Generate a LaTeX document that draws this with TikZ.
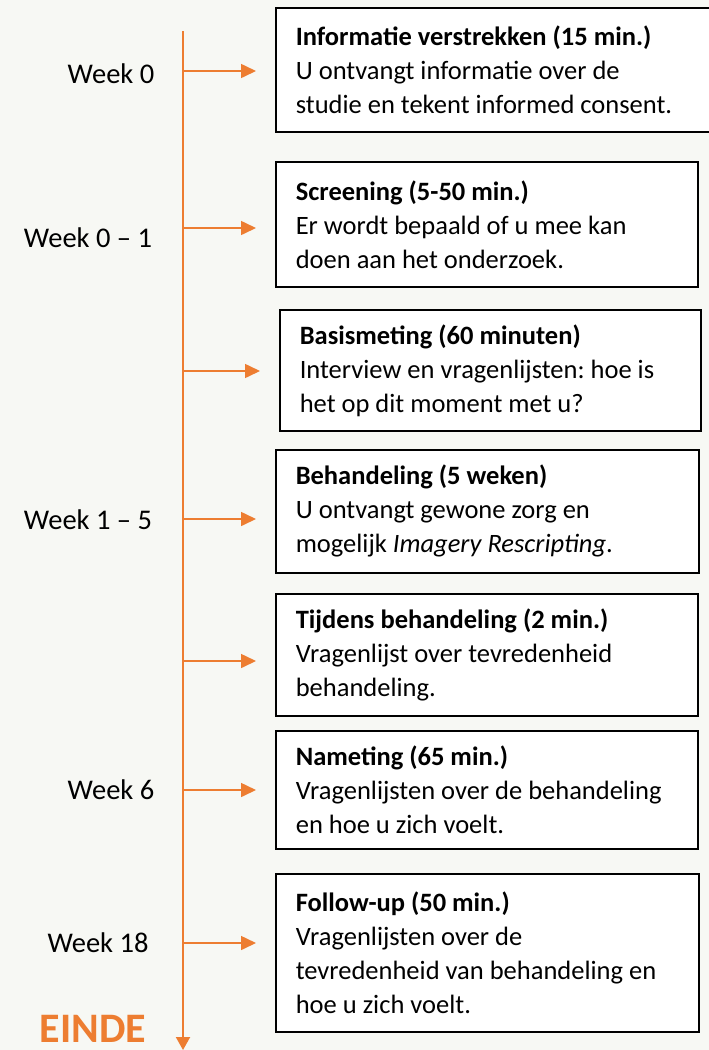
\documentclass[tikz,border=0pt]{standalone}
\usepackage{fontspec}
\setmainfont{Carlito}
\usetikzlibrary{arrows.meta}
\definecolor{bgc}{HTML}{F7F8F4}
\definecolor{orng}{HTML}{ED7D31}
\hyphenpenalty=10000\relax
\exhyphenpenalty=10000\relax
\frenchspacing
\tikzset{
  x=1pt,y=-1pt,
  arr/.style={draw=orng,line width=1.6pt,-{Triangle[length=15pt,width=14pt]},shorten >=19pt},
  infobox/.style={draw=black,line width=1.6pt,fill=white,anchor=north west,align=flush left,
    inner xsep=20pt,inner ysep=0pt,font=\fontsize{26.5}{34}\selectfont},
  weeklabel/.style={font=\fontsize{28.5}{34}\selectfont,anchor=center},
}
\begin{document}
\begin{tikzpicture}
\fill[bgc] (0,0) rectangle (709,1050);
\useasboundingbox (0,0) rectangle (709,1050);

% boxes
\node[infobox,minimum width=426pt,minimum height=124pt,text width=400pt] (b1) at (275,7)
  {\textbf{Informatie verstrekken (15 min.)}\\U ontvangt informatie over de\\studie en tekent informed consent.};
\node[infobox,minimum width=422pt,minimum height=125pt,text width=382pt] (b2) at (275,161)
  {\textbf{Screening (5-50 min.)}\\Er wordt bepaald of u mee kan\\doen aan het onderzoek.};
\node[infobox,minimum width=421pt,minimum height=121pt,text width=381pt] (b3) at (279,309)
  {\textbf{Basismeting (60 minuten)}\\Interview en vragenlijsten: hoe is\\het op dit moment met u?};
\node[infobox,minimum width=423pt,minimum height=123pt,text width=383pt] (b4) at (275,449)
  {\textbf{Behandeling (5 weken)}\\U ontvangt gewone zorg en\\mogelijk \textit{Imagery Rescripting}.};
\node[infobox,minimum width=422pt,minimum height=122pt,text width=382pt] (b5) at (275,593)
  {\textbf{Tijdens behandeling (2 min.)}\\Vragenlijst over tevredenheid\\behandeling.};
\node[infobox,minimum width=422pt,minimum height=118pt,text width=382pt] (b6) at (275,730)
  {\textbf{Nameting (65 min.)}\\Vragenlijsten over de behandeling\\en hoe u zich voelt.};
\node[infobox,minimum width=423pt,minimum height=158pt,text width=383pt] (b7) at (275,873)
  {\textbf{Follow-up (50 min.)}\\Vragenlijsten over de\\tevredenheid van behandeling en\\hoe u zich voelt.};

% axis
\coordinate (top) at (183,31);
\coordinate (bot) at (183,1050);
\draw[draw=orng,line width=2pt,-{Triangle[length=13pt,width=14pt]}] (top) -- (bot);

% branch points
\coordinate (a1) at (183,71);
\coordinate (a2) at (183,228);
\coordinate (a3) at (183,371);
\coordinate (a4) at (183,519);
\coordinate (a5) at (183,661);
\coordinate (a6) at (183,790);
\coordinate (a7) at (183,943);
\draw[arr] (a1) -- (a1 -| b1.west);
\draw[arr] (a2) -- (a2 -| b2.west);
\draw[arr] (a3) -- (a3 -| b3.west);
\draw[arr] (a4) -- (a4 -| b4.west);
\draw[arr] (a5) -- (a5 -| b5.west);
\draw[arr] (a6) -- (a6 -| b6.west);
\draw[arr] (a7) -- (a7 -| b7.west);

% week labels
\node[weeklabel] (w1) at (111,74) {Week 0};
\node[weeklabel] (w2) at (88,238) {Week 0 – 1};
\node[weeklabel] (w3) at (88,520) {Week 1 – 5};
\node[weeklabel] (w4) at (111,790) {Week 6};
\node[weeklabel] (w5) at (98,943) {Week 18};
\node[anchor=base,text=orng,font=\fontsize{42}{48}\selectfont\bfseries,inner sep=0pt] (einde) at (93,1042) {EINDE};
\end{tikzpicture}
\end{document}
